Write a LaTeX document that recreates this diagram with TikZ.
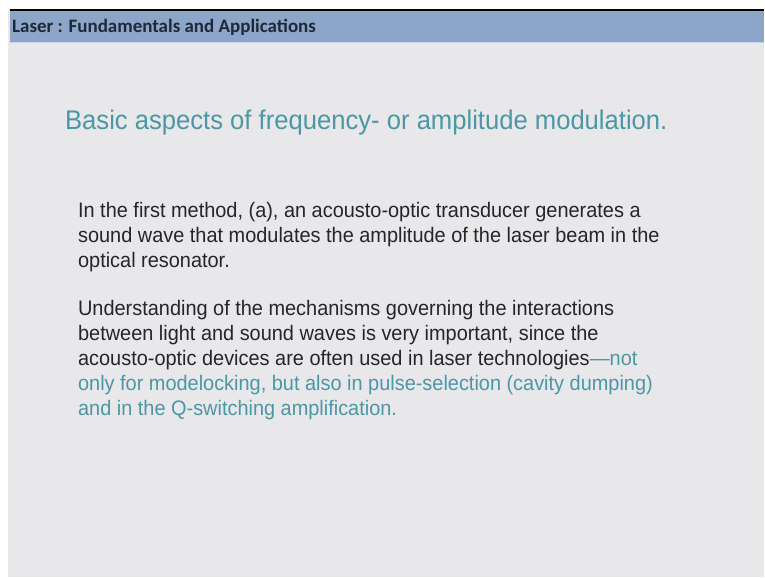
\documentclass[tikz,border=0pt]{standalone}
\usepackage{fontspec}
\setmainfont{Liberation Sans}
\newfontfamily\headfont{Carlito}
\newfontfamily\bodyfont[FakeStretch=0.95]{Liberation Sans}

\definecolor{slidegray}{HTML}{E8E8EA}
\definecolor{headblue}{HTML}{8CA5C8}
\definecolor{headline}{HTML}{C9D5E8}
\definecolor{headtext}{HTML}{1E2838}
\definecolor{titleteal}{HTML}{4B97A5}
\definecolor{textdark}{HTML}{262626}

\tikzstyle{headtitle}=[anchor=base west, inner sep=0, font=\headfont\bfseries\fontsize{19}{19}\selectfont, text=headtext]
\tikzstyle{slidetitle}=[anchor=base west, inner sep=0, font=\bodyfont\fontsize{27}{27}\selectfont, text=titleteal]
\tikzstyle{bodyline}=[anchor=base west, inner sep=0, font=\bodyfont\fontsize{21}{21}\selectfont, text=textdark]

\begin{document}
\begin{tikzpicture}[x=1pt,y=-1pt]
        % page and slide frame
        \fill[white] (0,0) rectangle (765,578);
        \fill[slidegray] (8,10) rectangle (765,578);
        \fill[headblue] (10,11) rectangle (765,42);
        \draw[black, line width=2pt] (10,10) -- (765,10);
        \draw[headline, line width=1.5pt] (10,42.5) -- (765,42.5);
        \node[headtitle] at (12,33) (header) {Laser : Fundamentals and Applications};
        \node[slidetitle] at (65,130) (title) {Basic aspects of frequency- or amplitude modulation.};
        % first paragraph
        \node[bodyline] at (78,218) (lineA) {In the first method, (a), an acousto-optic transducer generates a};
        \node[bodyline] at (78,243) (lineB) {sound wave that modulates the amplitude of the laser beam in the};
        \node[bodyline] at (78,268) (lineC) {optical resonator.};
        % second paragraph
        \node[bodyline] at (78,316) (lineD) {Understanding of the mechanisms governing the interactions};
        \node[bodyline] at (78,341) (lineE) {between light and sound waves is very important, since the};
        \node[bodyline] at (78,366) (lineF) {acousto-optic devices are often used in laser technologies\textcolor{titleteal}{—not}};
        \node[bodyline, text=titleteal] at (78,391) (lineG) {only for modelocking, but also in pulse-selection (cavity dumping)};
        \node[bodyline, text=titleteal] at (78,416) (lineH) {and in the Q-switching amplification.};
    \end{tikzpicture}
\end{document}
